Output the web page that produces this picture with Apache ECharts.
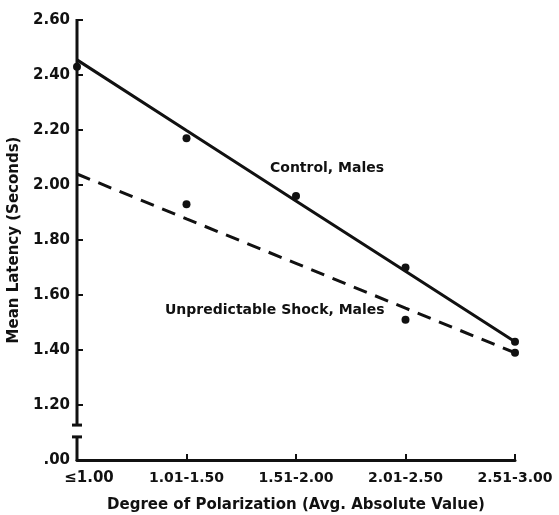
<!DOCTYPE html>
<html>
<head>
<meta charset="utf-8">
<script src="https://cdn.jsdelivr.net/npm/echarts@6/dist/echarts.min.js"></script>
<style>
  html, body { margin: 0; padding: 0; background: #fff; }
  #chart { width: 559px; height: 515px; }
</style>
</head>
<body>
<div id="chart"></div>
<script>
// polarization groups
const categories = ["≤1.00", "1.01-1.50", "1.51-2.00", "2.01-2.50", "2.51-3.00"];

// observed group means
const controlMeans = [2.43, 2.17, 1.96, 1.70, 1.43];
const shockMeans = [null, 1.93, null, 1.51, 1.39];

// fitted lines as drawn
const controlFit = [2.455, 2.198, 1.942, 1.686, 1.43];
const shockFit = [2.04, 1.877, 1.715, 1.552, 1.39];

const yMin = 1.0;
const yMax = 2.6;
const breakTop = 1.127;
const breakBottom = 1.084;

const font = "DejaVu Sans";
const ink = "#111";

const chart = echarts.init(document.getElementById("chart"));

chart.setOption({
  animation: false,
  backgroundColor: "#fff",
  grid: { left: 77, right: 44, top: 20, bottom: 55, outerBoundsMode: "none" },
  xAxis: {
    type: "category",
    data: categories,
    boundaryGap: false,
    name: "Degree of Polarization (Avg. Absolute Value)",
    nameLocation: "middle",
    nameGap: 38,
    nameTextStyle: { fontFamily: font, fontWeight: "bold", fontSize: 15, color: ink },
    axisLine: { lineStyle: { color: ink, width: 3 } },
    axisTick: { inside: true, length: 6, interval: 0, lineStyle: { color: ink, width: 2 } },
    axisLabel: {
      fontFamily: font, fontWeight: "bold", fontSize: 14, color: ink, margin: 11,
      interval: 0, hideOverlap: false,
      formatter: (v, i) => (i === 0 ? "{first|" + v + "}" : v),
      rich: {
        first: { fontFamily: font, fontWeight: "bold", fontSize: 15, color: ink, padding: [0, 0, 0, 24] }
      }
    },
    splitLine: { show: false }
  },
  yAxis: {
    type: "value",
    min: yMin,
    max: yMax,
    interval: 0.2,
    name: "Mean Latency (Seconds)",
    nameLocation: "middle",
    nameGap: 52,
    nameTextStyle: { fontFamily: font, fontWeight: "bold", fontSize: 15, color: ink },
    axisLine: { show: false },
    axisTick: { show: true, inside: true, length: 6, lineStyle: { color: ink, width: 2 } },
    axisLabel: {
      fontFamily: font, fontWeight: "bold", fontSize: 15, color: ink, margin: 7,
      formatter: (v) => (Math.abs(v - 1) < 1e-6 ? ".00" : v.toFixed(2))
    },
    splitLine: { show: false }
  },
  series: [
    {
      name: "Control, Males fit",
      type: "line",
      data: controlFit,
      symbol: "none",
      lineStyle: { color: ink, width: 3 },
      z: 3
    },
    {
      name: "Unpredictable Shock, Males fit",
      type: "line",
      data: shockFit,
      symbol: "none",
      lineStyle: { color: ink, width: 3, type: [14, 9] },
      z: 3
    },
    {
      name: "Control, Males",
      type: "scatter",
      data: controlMeans,
      symbolSize: 8,
      itemStyle: { color: ink, opacity: 1 },
      z: 4
    },
    {
      name: "Unpredictable Shock, Males",
      type: "scatter",
      data: shockMeans,
      symbolSize: 8,
      itemStyle: { color: ink, opacity: 1 },
      z: 4
    }
  ]
});

// broken y axis line, placed through the chart's own scale
const pt = (v) => chart.convertToPixel({ gridIndex: 0 }, [0, v]);
const axisTop = pt(yMax);
const bTop = pt(breakTop);
const bBot = pt(breakBottom);
const axisBottom = pt(yMin);
const ax = axisTop[0];
const axisStyle = { stroke: ink, lineWidth: 3 };

chart.setOption({
  graphic: [
    { type: "line", shape: { x1: ax, y1: axisTop[1] - 1, x2: ax, y2: bTop[1] }, style: axisStyle, z: 10 },
    { type: "line", shape: { x1: ax - 5, y1: bTop[1], x2: ax + 5, y2: bTop[1] }, style: axisStyle, z: 10 },
    { type: "line", shape: { x1: ax - 5, y1: bBot[1], x2: ax + 5, y2: bBot[1] }, style: axisStyle, z: 10 },
    { type: "line", shape: { x1: ax, y1: bBot[1], x2: ax, y2: axisBottom[1] + 1 }, style: axisStyle, z: 10 },
    {
      type: "text", left: 270, top: 161, z: 10,
      style: { text: "Control, Males", fontFamily: font, fontWeight: "bold", fontSize: 14, fill: ink }
    },
    {
      type: "text", left: 165, top: 303, z: 10,
      style: { text: "Unpredictable Shock, Males", fontFamily: font, fontWeight: "bold", fontSize: 14, fill: ink }
    }
  ]
});
</script>
</body>
</html>
